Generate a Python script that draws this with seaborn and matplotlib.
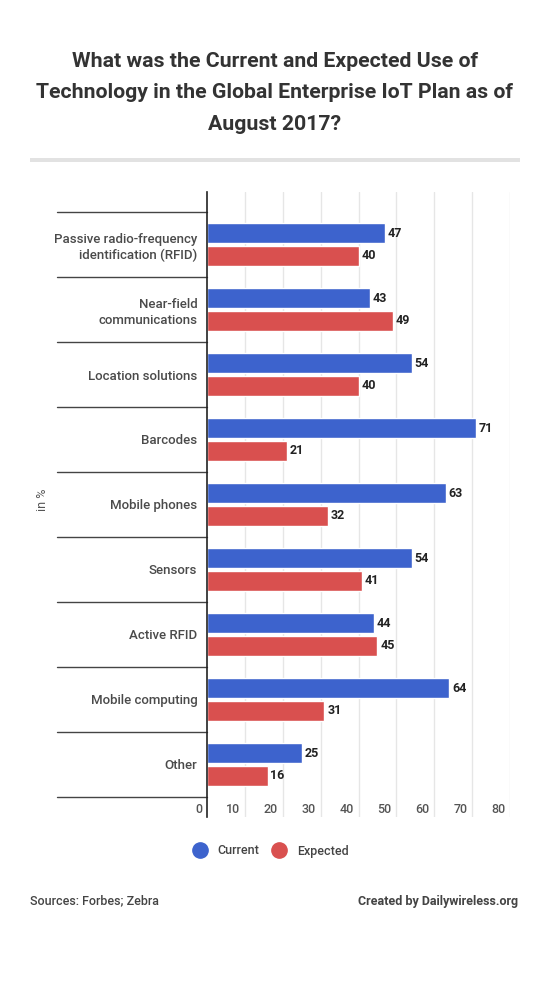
import pandas as pd
import seaborn as sns
import matplotlib.pyplot as plt
from matplotlib.lines import Line2D
from matplotlib.patches import Rectangle
from matplotlib.transforms import ScaledTranslation, blended_transform_factory

categories = ['Passive radio-frequency\nidentification (RFID)', 'Near-field\ncommunications',
              'Location solutions', 'Barcodes', 'Mobile phones', 'Sensors',
              'Active RFID', 'Mobile computing', 'Other']
current = [47, 43, 54, 71, 63, 54, 44, 64, 25]
expected = [40, 49, 40, 21, 32, 41, 45, 31, 16]
series = ['Current', 'Expected']
xticks = [0, 10, 20, 30, 40, 50, 60, 70, 80]

blue = '#3d63cd'
red = '#d9504f'

sns.set_style('white')
plt.rcParams['font.family'] = ['Roboto', 'DejaVu Sans']

df = pd.DataFrame({
    'tech': categories * 2,
    'value': current + expected,
    'series': [series[0]] * len(categories) + [series[1]] * len(categories),
})

W, H = 550, 991
fig = plt.figure(figsize=(W / 100, H / 100), dpi=100)
ax = fig.add_axes([207 / W, 1 - 817 / H, (510 - 207) / W, (817 - 192) / H])

sns.barplot(data=df, y='tech', x='value', hue='series', palette=[blue, red],
            width=0.7, gap=0.1, order=categories, hue_order=series,
            orient='h', legend=False, ax=ax, saturation=1)

ax.set_xlim(0, 80)
ax.set_ylim(8.5 + 20 / 65, -0.5 - 20 / 65)
ax.set_xlabel('')
ax.set_ylabel('')

# vertical gridlines
for x in xticks[1:]:
    ax.axvline(x, color='#e6e6e6', lw=1, zorder=0)
for s in ['top', 'right', 'bottom']:
    ax.spines[s].set_visible(False)
ax.spines['left'].set_color('#222222')
ax.spines['left'].set_linewidth(1.2)

# value labels
for cont in ax.containers:
    ax.bar_label(cont, padding=2, fontsize=9, fontweight='bold', color='#222222')

# category labels
ax.set_yticks(range(len(categories)))
ax.set_yticklabels(categories, fontsize=9.5, color='#4a4a4a', linespacing=1.3,
                   fontweight='medium')
ax.tick_params(axis='y', length=0, pad=7)

# x tick labels inside the bottom of the axes, right-aligned to gridlines
ax.set_xticks(xticks)
ax.set_xticklabels([str(v) for v in xticks], fontsize=9, color='#555555',
                   fontweight='medium')
ax.tick_params(axis='x', length=0, pad=-10)
shift = ScaledTranslation(-5 / 100, 0, fig.dpi_scale_trans)
for lab in ax.get_xticklabels():
    lab.set_ha('right')
    lab.set_transform(lab.get_transform() + shift)

# separators between categories, left of the axis
sep_tr = blended_transform_factory(fig.transFigure, ax.transData)
for i in range(len(categories) + 1):
    y = i - 0.5
    ax.add_line(Line2D([57 / W, 207 / W], [y, y], transform=sep_tr,
                       color='#444444', lw=1, clip_on=False))

fig.text(42 / W, 1 - 500 / H, 'in %', rotation=90, fontsize=9, color='#555555',
         ha='center', va='center')

# title
fig.text(0.5, 1 - 93 / H,
         'What was the Current and Expected Use of\nTechnology in the Global Enterprise IoT Plan as of\nAugust 2017?',
         ha='center', va='center', fontsize=15.3, fontweight='bold', color='#333333',
         linespacing=1.82)
fig.add_artist(Rectangle((30 / W, 1 - 162 / H), 490 / W, 4 / H,
                         transform=fig.transFigure, color='#e2e2e2', lw=0))

# legend
handles = [Line2D([], [], marker='o', ls='', markersize=11, markerfacecolor=blue,
                  markeredgecolor=blue),
           Line2D([], [], marker='o', ls='', markersize=11, markerfacecolor=red,
                  markeredgecolor=red)]
leg = fig.legend(handles, series, loc='center', bbox_to_anchor=(268 / W, 1 - 851 / H),
                 ncol=2, frameon=False, handletextpad=0.4, columnspacing=0.6,
                 labelcolor='#444444', prop={'weight': 'medium', 'size': 9})

# footer
fig.text(30 / W, 1 - 901 / H, 'Sources: Forbes; Zebra', ha='left', va='center',
         fontsize=9, fontweight='medium', color='#444444')
fig.text(518 / W, 1 - 901 / H, 'Created by Dailywireless.org', ha='right', va='center',
         fontsize=9, fontweight='bold', color='#444444')

fig.savefig('out.png', dpi=100, facecolor='white')
